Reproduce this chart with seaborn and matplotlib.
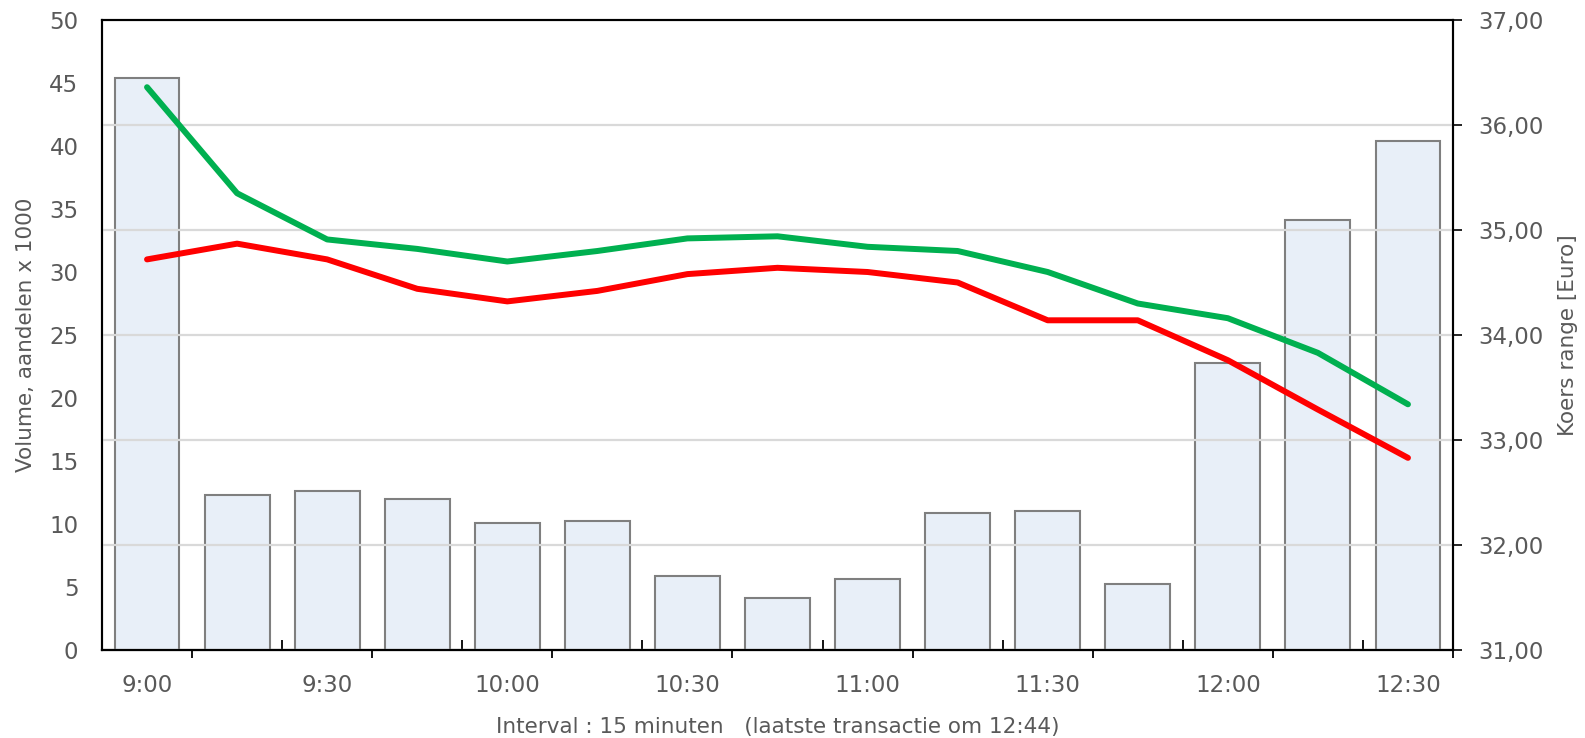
import numpy as np
import pandas as pd
import matplotlib
matplotlib.use("Agg")
from matplotlib import pyplot as plt
from matplotlib.ticker import FuncFormatter
import seaborn as sns

# data
times = ["9:00", "9:15", "9:30", "9:45", "10:00", "10:15", "10:30", "10:45",
         "11:00", "11:15", "11:30", "11:45", "12:00", "12:15", "12:30"]
volume = [45.4, 12.3, 12.6, 12.0, 10.1, 10.2, 5.9, 4.1, 5.6, 10.9, 11.0, 5.2, 22.8, 34.1, 40.4]
koers_hoog = [36.36, 35.35, 34.91, 34.82, 34.70, 34.80, 34.92, 34.94, 34.84, 34.80,
              34.60, 34.30, 34.16, 33.83, 33.34]
koers_laag = [34.72, 34.87, 34.72, 34.44, 34.32, 34.42, 34.58, 34.64, 34.60, 34.50,
              34.14, 34.14, 33.76, 33.29, 32.83]

df = pd.DataFrame({"tijd": times, "volume": volume,
                   "hoog": koers_hoog, "laag": koers_laag})
df["pos"] = np.arange(len(df))

sns.set_style("white")
plt.rcParams["font.family"] = ["DejaVu Sans"]
txt = "#595959"
fs_tick = 16.5
fs_lab = 15.5

fig = plt.figure(figsize=(15.85, 7.38), dpi=100)
ax1 = fig.add_axes([102 / 1585, 1 - 650 / 738, 1351 / 1585, 630 / 738])

sns.barplot(data=df, x="tijd", y="volume", ax=ax1, color="#E8EFF8", saturation=1,
            edgecolor="#7F7F7F", linewidth=1.5, width=0.72)

ax2 = ax1.twinx()
sns.lineplot(data=df, x="pos", y="hoog", ax=ax2, color="#00B050", lw=4.3,
             solid_capstyle="round", solid_joinstyle="round")
sns.lineplot(data=df, x="pos", y="laag", ax=ax2, color="#FF0000", lw=4.3,
             solid_capstyle="round", solid_joinstyle="round")

ax1.set_xlim(-0.5, len(times) - 0.5)
ax1.set_ylim(0, 50)
ax1.set_yticks(range(0, 51, 5))
ax2.set_ylim(31, 37)
ax2.set_yticks(range(31, 38))
ax2.yaxis.set_major_formatter(FuncFormatter(lambda v, p: f"{v:.2f}".replace(".", ",")))

# grid from the right axis
ax2.grid(axis="y", color="#D9D9D9", lw=1.6)
ax2.set_axisbelow(True)
ax1.grid(False)

# x ticks: labels every 30 min, tick marks on bar boundaries
lab_pos = list(range(0, len(times), 2))
ax1.set_xticks(lab_pos, [times[i] for i in lab_pos])
ax1.set_xticks(np.arange(0.5, len(times), 2), minor=True)
ax1.tick_params(axis="x", which="major", length=0, pad=17, labelsize=fs_tick, labelcolor=txt)
ax1.tick_params(axis="x", which="minor", direction="out", length=6, width=1.3,
                color="black", bottom=True)
sec = ax1.secondary_xaxis("bottom")
sec.set_xticks(np.arange(1.5, len(times) - 1, 2))
sec.tick_params(axis="x", direction="in", length=7, width=1.3, color="black",
                labelbottom=False)
sec.spines["bottom"].set_color("black")
sec.spines["bottom"].set_linewidth(1.5)

ax1.tick_params(axis="y", length=0, pad=17, labelsize=fs_tick, labelcolor=txt)
ax2.tick_params(axis="y", direction="out", length=6.3, width=1.2, color="black",
                pad=12, labelsize=fs_tick, labelcolor=txt)

for ax in (ax1, ax2):
    for s in ax.spines.values():
        s.set_visible(True)
        s.set_color("black")
        s.set_linewidth(1.5)

ax1.set_xlabel("Interval : 15 minuten   (laatste transactie om 12:44)", fontsize=fs_lab,
               color=txt, labelpad=15)
ax1.set_ylabel("Volume, aandelen x 1000", fontsize=fs_lab, color=txt)
ax2.set_ylabel("Koers range [Euro]", fontsize=fs_lab, color=txt)
ax1.yaxis.set_label_coords(-0.049, 0.5)
ax2.yaxis.set_label_coords(1.0777, 0.5)

fig.savefig("out.png", dpi=100)
